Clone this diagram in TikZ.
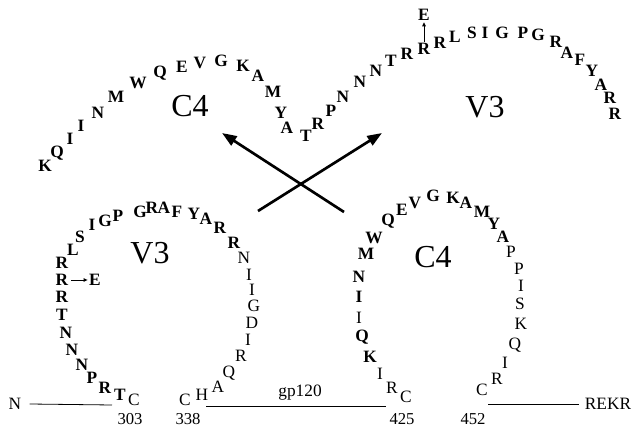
\documentclass[tikz,border=0pt]{standalone}
\usepackage{fontspec}
\setmainfont{Liberation Serif}
\usetikzlibrary{arrows.meta}

\begin{document}
\begin{tikzpicture}[
  x=0.75pt, y=-0.75pt,
  resb/.style = {font=\fontsize{13}{13}\selectfont\bfseries, inner sep=0pt},
  resn/.style = {font=\fontsize{13}{13}\selectfont, inner sep=0pt},
  region/.style = {font=\fontsize{24}{24}\selectfont, inner sep=0pt},
  tag/.style = {font=\fontsize{12.5}{12.5}\selectfont, inner sep=0pt},
  bigarr/.style = {-{Triangle[length=11pt,width=8pt]}, line width=2pt},
  smallarr/.style = {-{Triangle[length=3pt,width=2.6pt]}, line width=0.7pt},
  chain/.style = {line width=0.6pt}
]
  \useasboundingbox (0,0) rectangle (632,427);

  % upper C4 arc
  \foreach \r/\x/\y [count=\i] in {K/45/166, Q/57/153, I/70/139, I/81/126,
      N/98/113, M/116/97, W/138/83, Q/160/73, E/182/67, V/200/63, G/221/61,
      K/243/66, A/258/76, M/273/92, Y/281/113, A/287/128, T/306/136}
    \node[resb] (tc\i) at (\x,\y) {\r};
  \node[region] (tclbl) at (190,106) {C4};

  % upper V3 arc
  \foreach \r/\x/\y [count=\i] in {R/318/124, P/331/111, N/343/97, N/360/82,
      N/376/71, T/391/61, R/407/54, R/424/49, R/440/43, L/455/37, S/472/33,
      I/485/33, G/502/33, P/523/33, G/538/35, R/556/42, A/567/53, F/580/60,
      Y/592/71, A/601/85, R/610/98, R/615/114}
    \node[resb] (tv\i) at (\x,\y) {\r};
  \node[resb] (tvmut) at (424,15) {E};
  \draw[smallarr, shorten <=1pt, shorten >=1pt] (tv8) -- (tvmut);
  \node[region] (tvlbl) at (485,107) {V3};

  % crossing arrows
  \coordinate (swapA0) at (258,211);
  \coordinate (swapA1) at (382,133);
  \coordinate (swapB0) at (344,212);
  \coordinate (swapB1) at (222,133);
  \draw[bigarr] (swapA0) -- (swapA1);
  \draw[bigarr] (swapB0) -- (swapB1);

  % lower V3 loop
  \foreach \r/\x/\y [count=\i] in {T/120/395, R/105/388, P/92/378, N/82/365,
      N/72/350, N/66/333, T/62/315, R/62/297, R/62/280, R/62/263, L/73/250,
      S/80/237, I/92/225, G/105/221, P/118/216, G/140/212, R/152/208,
      A/164/208, F/177/212, Y/194/214, A/206/219, R/220/228, R/234/243}
    \node[resb] (bv\i) at (\x,\y) {\r};
  \foreach \r/\x/\y [count=\i] in {C/134/400, N/244/258, I/249/275, I/252/290,
      G/254/306, D/252/323, I/248/340, R/241/356, Q/229/373, A/218/387,
      H/202/395, C/185/400}
    \node[resn] (bn\i) at (\x,\y) {\r};
  \node[resb] (bvmut) at (95,280) {E};
  \draw[smallarr, shorten <=2pt, shorten >=1pt] (bv9) -- (bvmut);
  \node[region] (bvlbl) at (150,253) {V3};

  % lower C4 loop
  \foreach \r/\x/\y [count=\i] in {K/370/357, Q/362/337, I/359/297, N/359/277,
      M/366/254, W/374/238, Q/388/221, E/402/210, V/415/203, G/433/196,
      K/453/198, A/466/203, M/482/212, Y/494/224, A/503/237}
    \node[resb] (bc\i) at (\x,\y) {\r};
  \foreach \r/\x/\y [count=\i] in {I/359/318, I/380/374, R/392/388, C/406/397,
      P/511/252, P/519/269, I/521/286, S/520/304, K/521/324, Q/515/345,
      I/505/363, R/497/379, C/482/390}
    \node[resn] (bd\i) at (\x,\y) {\r};
  \node[region] (bclbl) at (433,257) {C4};

  % gp120 chain
  \node[resn] (nterm) at (15,404) {N};
  \node[resn] (cterm) at (608,404) {REKR};
  \node[resn] (gp) at (300,393) {gp120};
  \coordinate (seg1) at (112,405);
  \coordinate (seg2) at (206,406);
  \coordinate (seg3) at (386,406);
  \coordinate (seg4) at (488,404);
  \draw[chain] (nterm.east) ++(8,0) -- (seg1);
  \draw[chain] (seg2) -- (seg3);
  \draw[chain] (seg4) -- ([xshift=-4pt]cterm.west);

  \foreach \n/\x [count=\i] in {303/130, 338/188, 425/402, 452/473}
    \node[tag] (pos\i) at (\x,419) {\n};
\end{tikzpicture}
\end{document}
